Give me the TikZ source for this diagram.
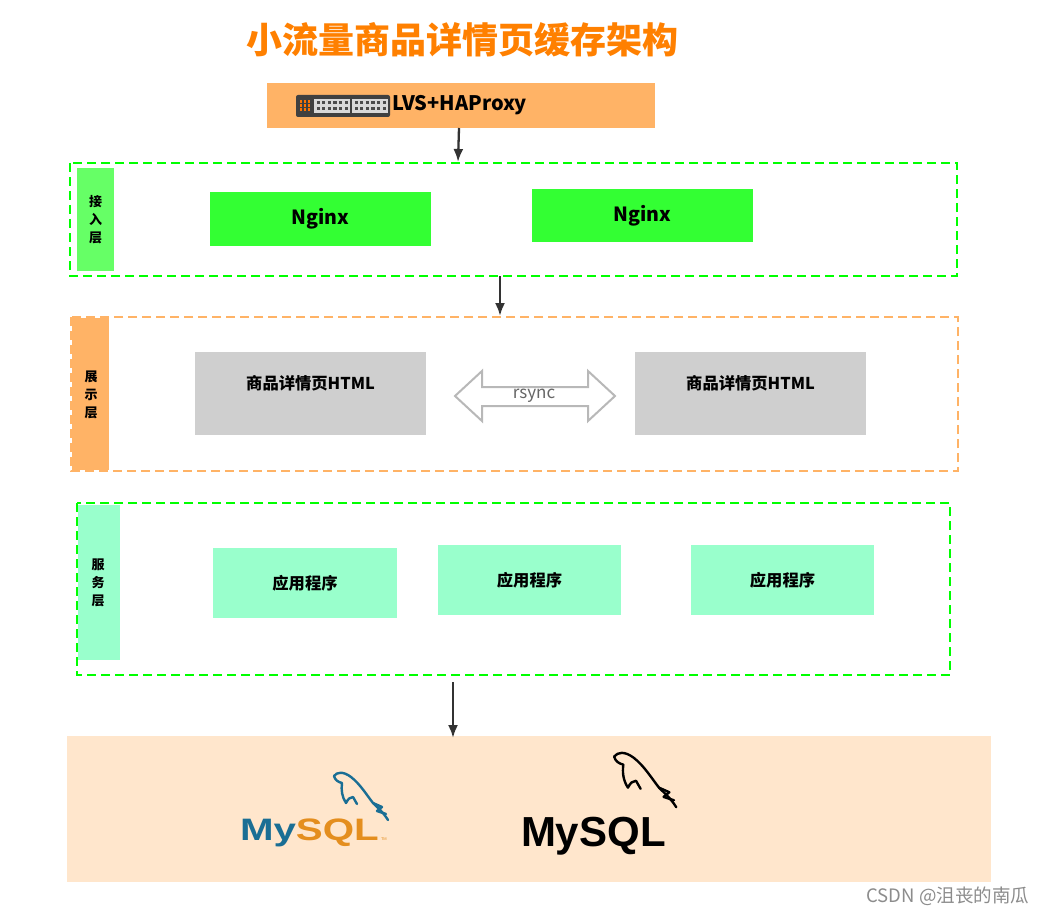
\documentclass[tikz,border=0pt]{standalone}
\usepackage{fontspec}
\usetikzlibrary{arrows.meta}
\setmainfont{Noto Sans CJK SC}
\newfontfamily\logofont{Liberation Sans}
\begin{document}
\begin{tikzpicture}[x=1pt,y=-1pt,
  box/.style={draw=none,inner sep=0pt,outer sep=0pt},
  layer/.style={draw=#1,dash pattern=on 9pt off 5pt,line width=2.4pt},
  vlabel/.style={box,align=center,font=\fontsize{13}{18}\selectfont\bfseries,text=black},
  arr/.style={draw=black!80,line width=2.3pt,-{Latex[length=13pt,width=10pt]}},
  dolphin/.style={line width=2.4pt,line cap=round,line join=round},
  boxtext/.style={font=\fontsize{16.3}{18}\selectfont\bfseries}
]
\useasboundingbox (0,0) rectangle (1045,915);
\fill[white] (0,0) rectangle (1045,915);
\definecolor{ttl}{HTML}{FF8000}
\definecolor{lvs}{HTML}{FFB366}
\definecolor{ngx}{HTML}{33FF33}
\definecolor{lgreen}{HTML}{66FF66}
\definecolor{dgreen}{HTML}{00FF00}
\definecolor{htm}{HTML}{CFCFCF}
\definecolor{app}{HTML}{99FFCC}
\definecolor{db}{HTML}{FFE6CC}
\definecolor{myblue}{HTML}{1A6E94}
\definecolor{myorange}{HTML}{E48E1E}

% title
\node[box,text=ttl,font=\fontsize{36}{40}\selectfont\bfseries] (title) at (462,40) {小流量商品详情页缓存架构};

% LVS
\node[box,fill=lvs,minimum width=388pt,minimum height=45pt] (lvs) at (461,105.5) {};
\node[box,anchor=west,font=\fontsize{20}{22}\selectfont\bfseries] (lvstext) at (392,105) {LVS+HAProxy};
% switch icon
\fill[rounded corners=2pt,fill=black!75] (296,95) rectangle (390,117);
\fill[fill=black!15] (314,99) rectangle (350,113);
\fill[fill=black!15] (352,99) rectangle (388,113);
\foreach \i in {0,...,5}{
  \fill[black!70] (316.5+\i*5.6,101) rectangle ++(3.2,3);
  \fill[black!70] (316.5+\i*5.6,107) rectangle ++(3.2,3);
  \fill[black!70] (354.5+\i*5.6,101) rectangle ++(3.2,3);
  \fill[black!70] (354.5+\i*5.6,107) rectangle ++(3.2,3);
}
\foreach \i in {0,1,2}{\foreach \j in {0,1,2}{
  \fill[orange!90!red] (299.5+\i*4,100.5+\j*4) rectangle ++(2.4,2.4);}}

% access layer
\draw[layer=dgreen] (70,163) rectangle (957,276);
\node[box,fill=lgreen,minimum width=37pt,minimum height=103pt] (acclab) at (95.5,219.5) {};
\node[vlabel] at (95.5,220) {接\\入\\层};
\coordinate (acctop) at (458,162);
\coordinate (accbot) at (500,276);
\node[box,fill=ngx,minimum width=221pt,minimum height=54pt,font=\fontsize{19.5}{22}\selectfont\bfseries] (ng1) at (320.5,219) {Nginx};
\node[box,fill=ngx,minimum width=221pt,minimum height=53pt,font=\fontsize{19.5}{22}\selectfont\bfseries] (ng2) at (642.5,215.5) {Nginx};

% display layer
\draw[layer=lvs] (71,317) rectangle (958,471);
\node[box,fill=lvs,minimum width=37pt,minimum height=152pt] (dislab) at (90.5,394) {};
\node[vlabel] at (91,395) {展\\示\\层};
\coordinate (distop) at (500,316);
\node[box,fill=htm,minimum width=231pt,minimum height=83pt] (h1) at (310.5,393.5) {};
\node[box,boxtext] at (310.5,383) {商品详情页HTML};
\node[box,fill=htm,minimum width=231pt,minimum height=83pt] (h2) at (750.5,393.5) {};
\node[box,boxtext] at (750.5,383) {商品详情页HTML};
% rsync double arrow
\draw[draw=black!28,line width=2pt,line join=miter] (455,396) -- (482,371) -- (482,387) -- (588,387) -- (588,371) -- (615,396) -- (588,421) -- (588,406) -- (482,406) -- (482,421) -- cycle;
\node[box,text=black!60,font=\fontsize{17}{18}\selectfont] (rsync) at (534,396) {rsync};

% service layer
\draw[layer=dgreen] (77,503) rectangle (950,675);
\node[box,fill=app,minimum width=42pt,minimum height=155pt] (svclab) at (99,582.5) {};
\node[vlabel] at (98,583) {服\\务\\层};
\node[box,fill=app,minimum width=184pt,minimum height=70pt,boxtext] (a1) at (305,583) {应用程序};
\node[box,fill=app,minimum width=183pt,minimum height=70pt,boxtext] (a2) at (529.5,580) {应用程序};
\node[box,fill=app,minimum width=183pt,minimum height=70pt,boxtext] (a3) at (782.5,580) {应用程序};
\coordinate (svcbot) at (453,682);

% DB layer
\node[box,fill=db,minimum width=924pt,minimum height=146pt] (dbl) at (529,809) {};
\coordinate (dbtop) at (453,738);

% arrows
\draw[arr] (459,128) -- (acctop);
\draw[arr] (accbot) -- (distop);
\draw[arr] (svcbot) -- (dbtop);

% colored MySQL logo
\node[box,anchor=base west,font=\logofont\fontsize{31}{32}\selectfont\bfseries,xscale=1.3] (my1) at (240,840) {\textcolor{myblue}{My}\textcolor{myorange}{SQL}};
\node[box,anchor=base west,text=myorange,font=\logofont\fontsize{4}{4}\selectfont] at (381,840) {TM};
\begin{scope}[shift={(333,772)},scale=1,draw=myblue]
  \draw[dolphin] (1,4) .. controls (4,0) and (10,-1) .. (18,5) .. controls (27,12) and (33,22) .. (40,31) .. controls (45,36) and (50,40) .. (55,48);
  \draw[dolphin] (1,4) .. controls (2,8) and (5,10) .. (9,11) .. controls (8,18) and (9,25) .. (13,31) .. controls (15,27) and (17,25) .. (20,25) -- (24,32);
  \draw[dolphin] (40,31) -- (49,35) -- (44,39) -- (53,42);
\end{scope}

% black MySQL logo
\node[box,anchor=base west,font=\logofont\fontsize{42}{46}\selectfont\bfseries] (my2) at (521,846) {MySQL};
\begin{scope}[shift={(613,752)},scale=1.15,draw=black]
  \draw[dolphin] (1,4) .. controls (4,0) and (10,-1) .. (18,5) .. controls (27,12) and (33,22) .. (40,31) .. controls (45,36) and (50,40) .. (55,48);
  \draw[dolphin] (1,4) .. controls (2,8) and (5,10) .. (9,11) .. controls (8,18) and (9,25) .. (13,31) .. controls (15,27) and (17,25) .. (20,25) -- (24,32);
  \draw[dolphin] (40,31) -- (49,35) -- (44,39) -- (53,42);
\end{scope}

% watermark
\node[box,anchor=east,text=black!45,font=\fontsize{18.5}{20}\selectfont] (wm) at (1029,896) {CSDN @沮丧的南瓜};
\end{tikzpicture}
\end{document}
